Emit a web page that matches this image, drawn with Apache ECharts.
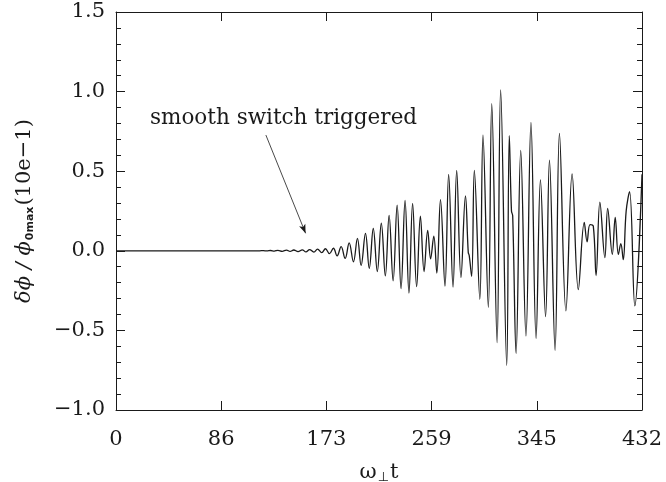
<!DOCTYPE html>
<html>
<head>
<meta charset="utf-8">
<script src="https://cdn.jsdelivr.net/npm/echarts@6.0.0/dist/echarts.min.js"></script>
<style>
  html, body { margin: 0; padding: 0; background: #fff; }
  #chart { width: 666px; height: 482px; }
</style>
</head>
<body>
<div id="chart"></div>
<script>
// time axis (omega_perp t) and perturbation values (extrema + kinks)
const times = [0, 118, 121, 124, 127, 130, 133, 136.5, 140, 143, 146, 149.5, 153, 156, 159, 162.5,
    165.5, 169, 172, 175.3, 178.6, 181.6, 184.9, 188.2, 191.5, 195.0, 198.3, 201.3, 204.9, 208.0,
    211.3, 214.6, 217.9, 221.2, 224.3, 227.6, 230.9, 234.1, 237.4, 240.6, 243.6, 246.9, 250.0,
    253.0, 256.0, 258.4, 261.0, 263.5, 266.5, 270.2, 273.2, 276.8, 279.8, 283.3, 287.0, 289.3,
    290.1, 292.1, 294.3, 298.8, 301.4, 305.8, 308.6, 313.0, 315.9, 320.9, 323.0, 324.8, 325.8,
    328.6, 332.4, 336.7, 340.8, 345.0, 348.6, 352.8, 356.0, 360.6, 364.2, 369.5, 374.6, 379.7,
    384.6, 386.9, 389.3, 392.0, 394.3, 397.4, 401.5, 403.8, 407.6, 410.0, 412.6, 414.6, 416.6,
    419.0, 421.8, 426.1, 432];
const dPhi = [0, 0, 0.001, -0.001, 0.002, -0.002, 0.003, -0.003, 0.004, -0.004, 0.005, -0.005,
    0.006, -0.007, 0.008, -0.008, 0.011, -0.012, 0.013, -0.018, 0.016, -0.032, 0.026, -0.048,
    0.05, -0.069, 0.078, -0.092, 0.11, -0.11, 0.14, -0.13, 0.173, -0.158, 0.222, -0.188, 0.287,
    -0.237, 0.316, -0.265, 0.297, -0.225, 0.217, -0.13, 0.128, -0.05, 0.092, -0.14, 0.321,
    -0.222, 0.48, -0.228, 0.505, -0.168, 0.345, -0.01, -0.03, -0.16, 0.505, -0.305, 0.727,
    -0.355, 0.925, -0.577, 1.01, -0.72, 0.723, 0.25, 0.22, -0.644, 0.63, -0.535, 0.807, -0.55,
    0.445, -0.414, 0.57, -0.625, 0.737, -0.377, 0.483, -0.243, 0.178, 0.057, 0.165, 0.155,
    -0.155, 0.306, -0.043, 0.266, -0.022, 0.21, -0.022, 0.045, -0.055, 0.25, 0.372, -0.346, 0.48];

const xTickLabels = ['0', '86', '173', '259', '345', '432'];
const xMax = 432;
const yMin = -1.0, yMax = 1.5;

// arrow annotation, in data units
const arrowFrom = [123.1, 0.727];
const arrowTo = [155.7, 0.11];

const chart = echarts.init(document.getElementById('chart'), null, { renderer: 'canvas' });

const serif = 'DejaVu Serif';
const ink = '#1a1a1a';
const xStep = xMax / 5;

function yLabel(v) {
    if (v < 0) return '\u2212' + Math.abs(v).toFixed(1);
    return v.toFixed(1);
}

const frameLine = { show: true, onZero: false, lineStyle: { color: ink, width: 1 } };

const option = {
    animation: false,
    backgroundColor: '#fff',
    grid: { left: 116, right: 24, top: 12, bottom: 72, outerBoundsMode: 'none' },
    xAxis: [{
        type: 'value', min: 0, max: xMax, interval: xStep,
        axisLine: frameLine,
        axisTick: { inside: true, length: 9, lineStyle: { color: ink } },
        splitLine: { show: false },
        axisLabel: {
            margin: 19, color: ink, fontFamily: serif, fontSize: 21,
            formatter: v => xTickLabels[Math.round(v / xStep)]
        },
        name: '{a|\u03c9}{s|\u22a5}{a|t}',
        nameLocation: 'middle', nameGap: 52,
        nameTextStyle: {
            rich: {
                a: { fontFamily: serif, fontSize: 21, color: ink },
                s: { fontFamily: 'DejaVu Sans', fontSize: 13, color: ink, padding: [9, 1, 0, 1] }
            }
        }
    }, {
        type: 'value', position: 'top', min: 0, max: xMax, interval: xStep,
        axisLine: frameLine,
        axisTick: { inside: true, length: 9, lineStyle: { color: ink } },
        axisLabel: { show: false }, splitLine: { show: false }
    }],
    yAxis: [{
        type: 'value', min: yMin, max: yMax, interval: 0.5,
        axisLine: frameLine,
        axisTick: { inside: true, length: 9, lineStyle: { color: ink } },
        minorTick: { show: true, splitNumber: 5, length: 5, lineStyle: { color: ink } },
        splitLine: { show: false },
        axisLabel: { margin: 11, color: ink, fontFamily: serif, fontSize: 21, formatter: yLabel },
        name: '{i|\u03b4\u03d5 / \u03d5}{s|0max}{a|(10e\u22121)}',
        nameLocation: 'middle', nameRotate: 90, nameGap: 80,
        nameTextStyle: {
            rich: {
                i: { fontFamily: serif, fontStyle: 'italic', fontSize: 21, color: ink },
                a: { fontFamily: serif, fontSize: 21, color: ink },
                s: { fontFamily: 'DejaVu Sans', fontWeight: 'bold', fontSize: 11, color: ink, padding: [12, 1, 0, 1] }
            }
        }
    }, {
        type: 'value', position: 'right', min: yMin, max: yMax, interval: 0.5,
        axisLine: frameLine,
        axisTick: { inside: true, length: 9, lineStyle: { color: ink } },
        minorTick: { show: true, splitNumber: 5, length: 5, lineStyle: { color: ink } },
        axisLabel: { show: false }, splitLine: { show: false }
    }],
    series: [{
        type: 'line',
        xAxisIndex: 0, yAxisIndex: 0,
        data: times.map((t, i) => [t, dPhi[i]]),
        showSymbol: false,
        smooth: 0.4,
        lineStyle: { color: ink, width: 1.3 },
        markLine: {
            silent: true,
            symbol: ['none', 'arrow'],
            symbolSize: [5, 9],
            lineStyle: { color: ink, width: 0.8, type: 'solid' },
            label: { show: false },
            data: [[{ coord: arrowFrom }, { coord: arrowTo }]]
        }
    }],
    graphic: [{
        type: 'text', left: 150, top: 107,
        style: { text: 'smooth switch triggered', font: '21.5px "DejaVu Serif"', fill: ink }
    }]
};

chart.setOption(option);
</script>
</body>
</html>
